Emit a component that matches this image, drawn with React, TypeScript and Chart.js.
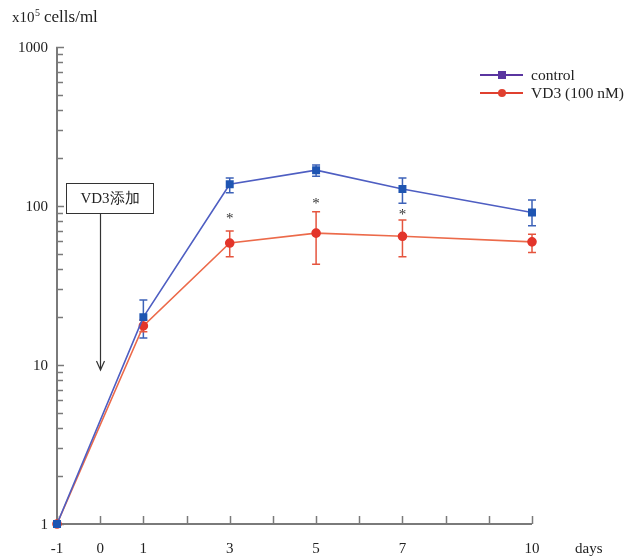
import { useEffect, useRef } from 'react';
import { Chart, registerables } from 'chart.js';

Chart.register(...registerables);

const days = [-1, 1, 3, 5, 7, 10];
const controlMean = [1, 20, 137, 168, 128, 91];
const controlUpper = [1, 25.6, 150, 181, 150, 109];
const controlLower = [1, 14.8, 121, 154, 104, 75];
const vd3Mean = [1, 17.6, 58.5, 67.5, 64.5, 59.5];
const vd3Upper = [1, 19.2, 69.7, 92, 81.6, 66.5];
const vd3Lower = [1, 16.2, 48, 43, 48, 51];
const significant = [false, false, true, true, true, false];
const asteriskLevel = [0, 0, 88, 109, 93, 0];
const xTickLabels = [-1, 0, 1, 3, 5, 7, 10];
const yTickLabels = [1, 10, 100, 1000];
const seriesNames = ['control', 'VD3 (100 nM)'];

const SERIF = "'Liberation Serif', 'DejaVu Serif', serif";
const AXIS = '#7a7a7a';
const C_LINE = '#4e5ec2';
const C_MARK = '#1f55b2';
const C_LEG = '#5a35a0';
const R_LINE = '#ec6a4a';
const R_MARK = '#e3352b';

const overlay = {
  id: 'overlay',
  beforeDatasetsDraw(chart: any) {
    const ctx = chart.ctx;
    const xs = chart.scales.x;
    const ys = chart.scales.y;
    const x0 = xs.getPixelForValue(-1);
    const x1 = xs.getPixelForValue(10);
    const y0 = ys.getPixelForValue(1);
    const y1 = ys.getPixelForValue(1000);
    ctx.save();
    ctx.strokeStyle = AXIS;
    ctx.lineWidth = 2;
    ctx.beginPath();
    ctx.moveTo(x0, y1);
    ctx.lineTo(x0, y0);
    ctx.lineTo(x1, y0);
    ctx.stroke();
    ctx.lineWidth = 1.5;
    // y minor ticks
    for (let d = 1; d <= 100; d *= 10) {
      for (let m = 1; m <= 9; m++) {
        const py = Math.round(ys.getPixelForValue(m * d)) + 0.5;
        ctx.beginPath();
        ctx.moveTo(x0, py);
        ctx.lineTo(x0 + (m === 1 ? 7 : 6), py);
        ctx.stroke();
      }
    }
    {
      const py = Math.round(ys.getPixelForValue(1000)) + 0.5;
      ctx.beginPath();
      ctx.moveTo(x0 - 1, py);
      ctx.lineTo(x0 + 7, py);
      ctx.stroke();
    }
    // x ticks
    for (let i = -1; i <= 10; i++) {
      const px = Math.round(xs.getPixelForValue(i)) + 0.5;
      ctx.beginPath();
      ctx.moveTo(px, y0);
      ctx.lineTo(px, y0 - 8);
      ctx.stroke();
    }
    // labels
    ctx.fillStyle = '#222';
    ctx.font = `15px ${SERIF}`;
    ctx.textBaseline = 'middle';
    ctx.textAlign = 'right';
    yTickLabels.forEach((v) => {
      ctx.fillText(String(v), x0 - 9, ys.getPixelForValue(v) + 1);
    });
    ctx.textAlign = 'center';
    xTickLabels.forEach((v) => {
      ctx.fillText(String(v), xs.getPixelForValue(v), y0 + 25);
    });
    ctx.textAlign = 'left';
    ctx.fillText('days', x1 + 43, y0 + 25);
    // y axis title
    ctx.font = `15px ${SERIF}`;
    let tx = 12;
    ctx.fillText('x10', tx, 18);
    tx += ctx.measureText('x10').width + 0.5;
    ctx.font = `10px ${SERIF}`;
    ctx.fillText('5', tx, 13);
    tx += ctx.measureText('5').width + 4;
    ctx.font = `17px ${SERIF}`;
    ctx.fillText('cells/ml', tx, 18);

    // error bars
    const bars = [
      { up: controlUpper, lo: controlLower, color: '#3d62b8' },
      { up: vd3Upper, lo: vd3Lower, color: '#e5553e' },
    ];
    bars.forEach((b) => {
      ctx.strokeStyle = b.color;
      ctx.lineWidth = 1.5;
      days.forEach((d, i) => {
        if (b.up[i] === b.lo[i]) return;
        const px = xs.getPixelForValue(d);
        const pu = ys.getPixelForValue(b.up[i]);
        const pl = ys.getPixelForValue(b.lo[i]);
        ctx.beginPath();
        ctx.moveTo(px, pu);
        ctx.lineTo(px, pl);
        ctx.moveTo(px - 4, pu);
        ctx.lineTo(px + 4, pu);
        ctx.moveTo(px - 4, pl);
        ctx.lineTo(px + 4, pl);
        ctx.stroke();
      });
    });
    ctx.restore();
  },
  afterDatasetsDraw(chart: any) {
    const ctx = chart.ctx;
    const xs = chart.scales.x;
    const ys = chart.scales.y;
    ctx.save();
    // asterisks
    ctx.fillStyle = '#333';
    ctx.font = `15px ${SERIF}`;
    ctx.textAlign = 'center';
    ctx.textBaseline = 'alphabetic';
    days.forEach((d, i) => {
      if (!significant[i]) return;
      ctx.fillText('*', xs.getPixelForValue(d), ys.getPixelForValue(asteriskLevel[i]) + 8);
    });
    ctx.textBaseline = 'middle';
    // annotation box
    const bx0 = Math.round(xs.getPixelForValue(-0.8)) + 0.5;
    const bx1 = Math.round(xs.getPixelForValue(1.22)) + 0.5;
    const by0 = Math.round(ys.getPixelForValue(140)) + 0.5;
    const by1 = Math.round(ys.getPixelForValue(90)) + 0.5;
    ctx.fillStyle = '#fff';
    ctx.fillRect(bx0, by0, bx1 - bx0, by1 - by0);
    ctx.strokeStyle = '#333';
    ctx.lineWidth = 1;
    ctx.strokeRect(bx0, by0, bx1 - bx0, by1 - by0);
    ctx.fillStyle = '#222';
    ctx.font = `15px ${SERIF}`;
    ctx.fillText('VD3添加', (bx0 + bx1) / 2, (by0 + by1) / 2 + 1);
    // arrow
    const ax = Math.round(xs.getPixelForValue(0)) + 0.5;
    const ay = ys.getPixelForValue(9.3);
    ctx.strokeStyle = '#333';
    ctx.lineWidth = 1.2;
    ctx.beginPath();
    ctx.moveTo(ax, by1);
    ctx.lineTo(ax, ay);
    ctx.moveTo(ax - 4, ay - 9);
    ctx.lineTo(ax, ay);
    ctx.lineTo(ax + 4, ay - 9);
    ctx.stroke();
    // legend
    const items = [
      { name: seriesNames[0], color: C_LEG, y: 75, shape: 'rect' },
      { name: seriesNames[1], color: '#e0402f', y: 93, shape: 'circle' },
    ];
    items.forEach((it) => {
      ctx.strokeStyle = it.color;
      ctx.fillStyle = it.color;
      ctx.lineWidth = 2;
      ctx.beginPath();
      ctx.moveTo(480, it.y);
      ctx.lineTo(523, it.y);
      ctx.stroke();
      if (it.shape === 'rect') {
        ctx.fillRect(498, it.y - 4, 8, 8);
      } else {
        ctx.beginPath();
        ctx.arc(502, it.y, 4, 0, Math.PI * 2);
        ctx.fill();
      }
      ctx.fillStyle = '#222';
      ctx.font = `15.5px ${SERIF}`;
      ctx.textAlign = 'left';
      ctx.fillText(it.name, 531, it.y + 1);
    });
    ctx.restore();
  },
};

export default function App() {
  const ref = useRef<HTMLCanvasElement | null>(null);
  useEffect(() => {
    if (!ref.current) return;
    const chart = new Chart(ref.current, {
      type: 'line',
      data: {
        datasets: [
          {
            label: seriesNames[0],
            data: days.map((d, i) => ({ x: d, y: controlMean[i] })),
            borderColor: C_LINE,
            backgroundColor: C_MARK,
            pointBackgroundColor: C_MARK,
            pointBorderColor: C_MARK,
            pointStyle: 'rect',
            pointRadius: 4.5,
            borderWidth: 1.6,
            clip: false,
            order: 1,
          },
          {
            label: seriesNames[1],
            data: days.map((d, i) => ({ x: d, y: vd3Mean[i] })),
            borderColor: R_LINE,
            backgroundColor: R_MARK,
            pointBackgroundColor: R_MARK,
            pointBorderColor: R_MARK,
            pointStyle: 'circle',
            pointRadius: 4,
            borderWidth: 1.6,
            clip: false,
            order: 2,
          },
        ],
      },
      options: {
        animation: false,
        responsive: false,
        layout: { padding: { left: 57, right: 95, top: 47, bottom: 32 } },
        plugins: { legend: { display: false }, tooltip: { enabled: false } },
        scales: {
          x: { type: 'linear', min: -1, max: 10, display: false },
          y: { type: 'logarithmic', min: 1, max: 1000, display: false },
        },
      },
      plugins: [overlay],
    });
    return () => chart.destroy();
  }, []);
  return (
    <div style={{ position: 'fixed', left: 0, top: 0, width: 627, height: 556, background: '#fff' }}>
      <canvas ref={ref} width={627} height={556} />
    </div>
  );
}
